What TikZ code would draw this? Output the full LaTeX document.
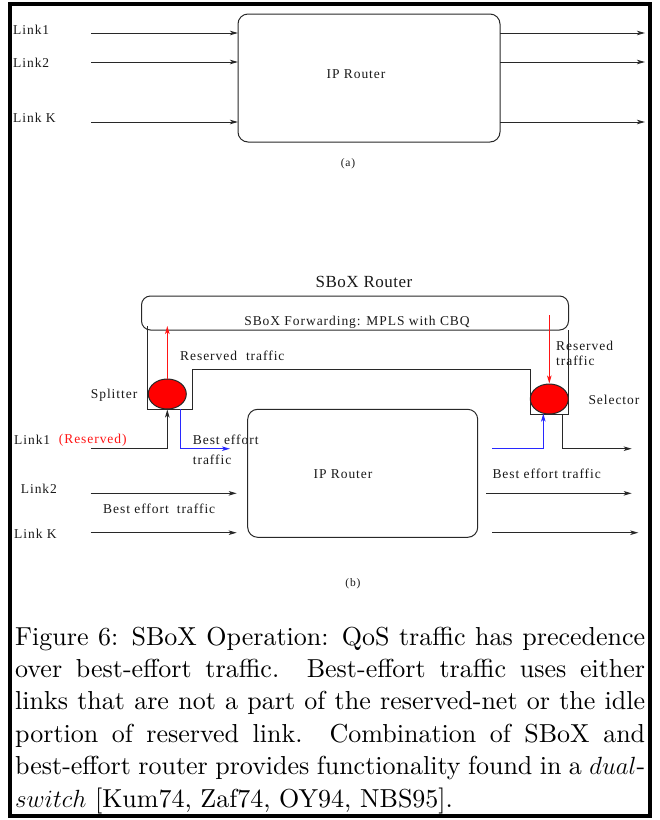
\documentclass[tikz,border=0pt]{standalone}
\usepackage{fontspec}
\usetikzlibrary{arrows.meta,shapes.geometric}
\newfontfamily\figfont{Liberation Serif}[LetterSpace=7]
\newfontfamily\titlefont{Liberation Serif}[LetterSpace=3]
\newfontfamily\capfont{lmroman10-regular}[Extension=.otf,ItalicFont=lmroman10-italic]

\definecolor{linec}{RGB}{40,40,40}
\definecolor{textc}{RGB}{25,25,25}
\definecolor{resred}{RGB}{255,20,20}
\definecolor{beblue}{RGB}{40,40,255}

\tikzset{
  wire/.style={draw=linec, line width=1pt},
  arr/.style={wire, -{Stealth[length=8pt,width=4.5pt,inset=2pt]}},
  redarr/.style={arr, draw=resred},
  bluearr/.style={arr, draw=beblue},
  lbl/.style={inner sep=0pt, text=textc, font=\figfont\fontsize{13.5}{15}\selectfont},
  lblw/.style={lbl, anchor=west, align=left},
  bigl/.style={inner sep=0pt, text=textc, font=\titlefont\fontsize{17}{19}\selectfont},
  tagl/.style={inner sep=0pt, text=textc, font=\figfont\fontsize{11.5}{13}\selectfont},
  routerbox/.style={wire, rounded corners=10pt},
  valve/.style={ellipse, draw=linec, line width=1pt, fill=red, minimum width=38pt, minimum height=30pt, inner sep=0pt}
}

\begin{document}
\begin{tikzpicture}[x=1pt, y=-1pt]
\useasboundingbox (0,0) rectangle (660,820);

% outer frame
\draw[line width=4pt, black] (10.3,3.5) rectangle (650,816);

% ---------------- (a) plain IP router ----------------
\draw[routerbox] (238,14) rectangle (500,142);
\node[lbl] (ipa) at (356,74) {IP Router};
\coordinate (aw1) at (238,33);  \coordinate (ae1) at (500,33);
\coordinate (aw2) at (238,62);  \coordinate (ae2) at (500,62);
\coordinate (awk) at (238,122); \coordinate (aek) at (500,122);

\node[lblw] (al1) at (13,30)  {Link1};
\node[lblw] (al2) at (13,63)  {Link2};
\node[lblw] (alk) at (13,118) {Link K};

\coordinate (ai1) at (91,33);   \coordinate (ao1) at (645,33);
\coordinate (ai2) at (91,62);   \coordinate (ao2) at (645,62);
\coordinate (aik) at (91,122);  \coordinate (aok) at (645,122);

\draw[arr] (ai1) -- (aw1);  \draw[arr] (ae1) -- (ao1);
\draw[arr] (ai2) -- (aw2);  \draw[arr] (ae2) -- (ao2);
\draw[arr] (aik) -- (awk);  \draw[arr] (aek) -- (aok);

\node[tagl] (taga) at (348,164) {(a)};

% ---------------- (b) SBoX router ----------------
\node[bigl] (sboxt) at (364,282) {SBoX Router};

% forwarding engine
\draw[wire, rounded corners=9pt] (141.5,296) rectangle (568.5,330);
\node[lbl] (fwd) at (357,322) {SBoX Forwarding: MPLS with CBQ};

% reserved-path enclosure joining splitter and selector
\draw[wire] (147,326) -- (147,409) -- (192,409) -- (192,369) -- (530,369)
            -- (530,414) -- (568.5,414) -- (568.5,330);

\node[valve] (spl) at (167.3,394) {};
\node[valve] (sel) at (549.3,399) {};

\node[lblw] (spll) at (90.7,395) {Splitter};
\node[lblw] (sell) at (588.3,400) {Selector};

% reserved traffic up into the forwarding engine and back down
\coordinate (fwdin)  at (167.3,326);
\coordinate (fwdout) at (549.3,315);
\draw[redarr] (spl.north) -- (fwdin);
\draw[redarr] (fwdout) -- (sel.north);
\node[lblw] (resl) at (180,356) {Reserved\hspace{9pt}traffic};
\node[lblw] (resr) at (556,353.5) {Reserved\\traffic};

% IP router for best-effort traffic
\draw[routerbox] (247.7,409.3) rectangle (477.7,537.3);
\node[lbl] (ipb) at (343,474) {IP Router};

% input links
\node[lblw] (bl1) at (14,440) {Link1};
\node[lblw, text=resred] (bl1r) at (58.7,440) {(Reserved)};
\node[lblw] (bl2) at (20.7,489) {Link2};
\node[lblw] (blk) at (14,534) {Link K};

\coordinate (bi1) at (90.7,448.7);
\coordinate (bi2) at (90.7,493.3);
\coordinate (bik) at (90.7,532.7);
\coordinate (bw2) at (236.7,493.3);
\coordinate (bwk) at (236.7,532.7);

\draw[arr] (bi1) -| (spl.south);
\draw[arr] (bi2) -- (bw2);
\draw[arr] (bik) -- (bwk);

% best-effort spill from the splitter
\coordinate (spltap) at (180,409);
\coordinate (splbe)  at (230,448.7);
\draw[bluearr] (spltap) |- (splbe);
\node[lblw] (bel1) at (192.7,440) {Best effort};
\node[lblw] (bel2) at (192.7,460) {traffic};
\node[lblw] (bel3) at (103,509) {Best effort\hspace{8pt}traffic};

% best-effort feed into the selector
\coordinate (selfeed) at (492.3,448.7);
\coordinate (selin)   at (543.3,413.6);
\draw[bluearr] (selfeed) -| (selin);

% output links
\coordinate (seltap) at (562.3,414);
\coordinate (bo1) at (631.7,448.7);
\coordinate (be2) at (486,493.3);   \coordinate (bo2) at (631.7,493.3);
\coordinate (bek) at (492.3,532.7); \coordinate (bok) at (638.3,532.7);
\draw[arr] (seltap) |- (bo1);
\draw[arr] (be2) -- (bo2);
\draw[arr] (bek) -- (bok);
\node[lblw] (bel4) at (492.3,474) {Best effort traffic};

\node[tagl] (tagb) at (353,584) {(b)};

% ---------------- caption ----------------
\node[anchor=base west, inner sep=0pt] (cap) at (15,807) {%
  \capfont\fontsize{26}{32.4}\selectfont
  \vbox{\hsize=630pt
    \hbox to\hsize{Figure 6: SBoX Operation: QoS traffic has precedence}
    \hbox to\hsize{over best-effort traffic.\ \ Best-effort traffic uses either}
    \hbox to\hsize{links that are not a part of the reserved-net or the idle}
    \hbox to\hsize{portion of reserved link.\ \ Combination of SBoX and}
    \hbox to\hsize{best-effort router provides functionality found in a $dual$-}
    \hbox to\hsize{$switch$ [Kum74, Zaf74, OY94, NBS95].\hfil}}};
\end{tikzpicture}
\end{document}
